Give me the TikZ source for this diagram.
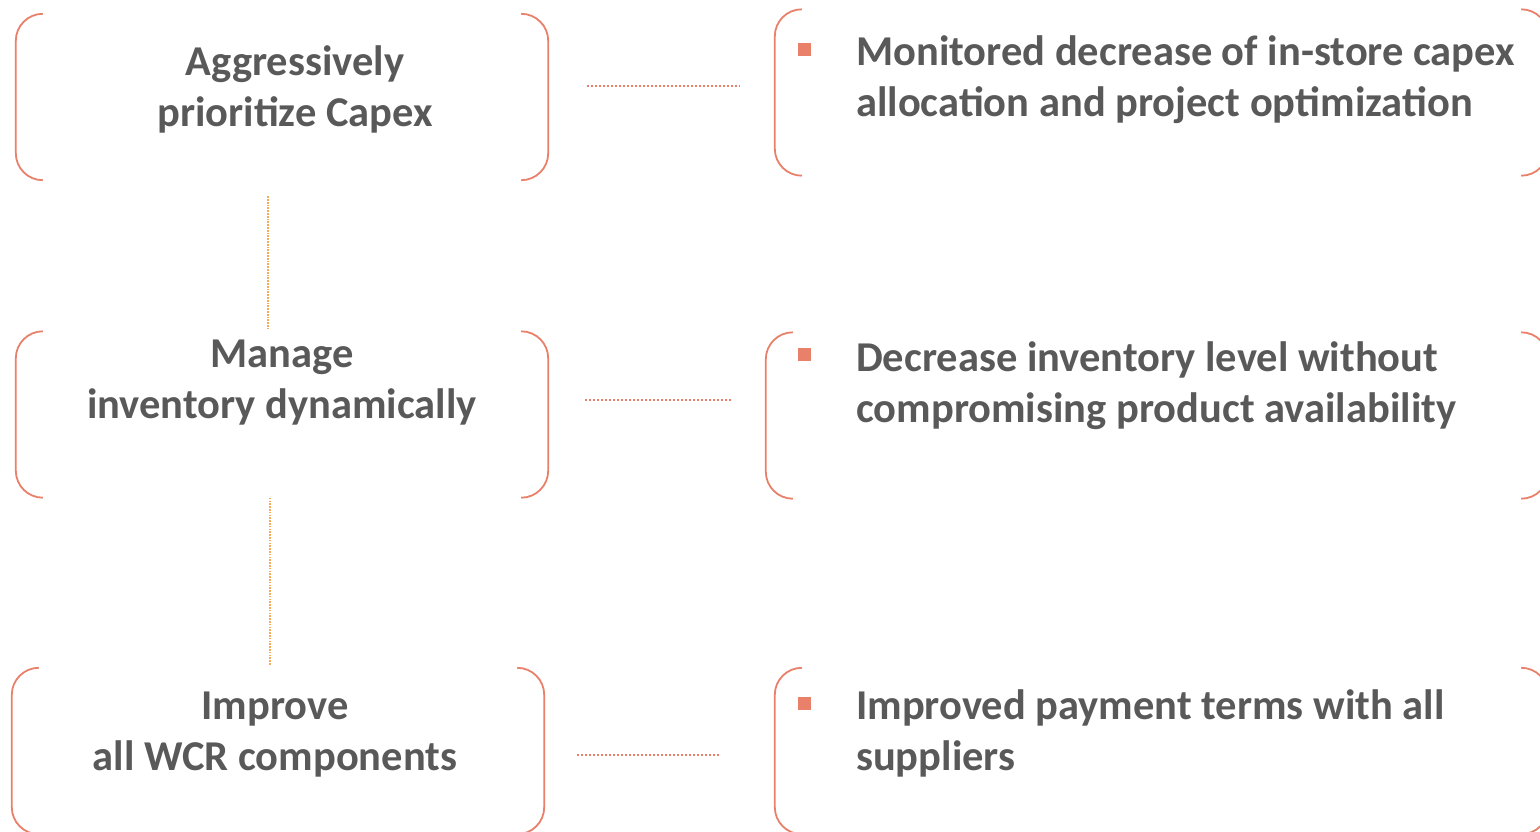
\documentclass[tikz,border=0pt]{standalone}
\usepackage{fontspec}
\setmainfont{Carlito}

\definecolor{salmon}{HTML}{E9806A}
\definecolor{amber}{HTML}{F4AC5C}
\definecolor{ink}{HTML}{595959}

\tikzset{
  frame/.style={minimum height=166pt, inner sep=0pt},
  bracket/.style={draw=salmon, line width=1.8pt, rounded corners=27pt},
  boxtext/.style={text=ink, font=\fontsize{42.5}{51}\selectfont\bfseries, inner sep=0pt},
  hdots/.style={salmon, line width=1.6pt, dash pattern=on 1.8pt off 2.2pt},
  vdots/.style={amber, line width=2.2pt, dash pattern=on 1.7pt off 1.1pt},
  bullet/.style={fill=salmon, minimum size=12.5pt, inner sep=0pt},
}

% a pair of round brackets around a (not drawn) frame node
\newcommand\brackets[1]{%
  \draw[bracket] ([xshift=27pt]#1.north west) -- (#1.north west)
    -- (#1.south west) -- ([xshift=27pt]#1.south west);
  \draw[bracket] ([xshift=-27pt]#1.north east) -- (#1.north east)
    -- (#1.south east) -- ([xshift=-27pt]#1.south east);
}

\begin{document}
\begin{tikzpicture}[x=1pt, y=-1pt]
\useasboundingbox (0,0) rectangle (1540,832);

% levers
\node[frame, minimum width=532pt] (capex) at (282,97) {};
\node[frame, minimum width=532pt] (stock) at (282,414.5) {};
\node[frame, minimum width=532pt] (wcr)   at (278,751) {};

% actions
\node[frame, minimum width=773pt] (capexAct) at (1161.5,92.5) {};
\node[frame, minimum width=782pt] (stockAct) at (1157,415.5) {};
\node[frame, minimum width=773pt] (wcrAct)   at (1161.5,751) {};

\foreach \f in {capex,stock,wcr,capexAct,stockAct,wcrAct}
  \brackets{\f};

% base anchor sits on the last line
\node[boxtext, align=center, anchor=base] (capexTxt) at (295,127)
  {Aggressively\\prioritize Capex};
\node[boxtext, align=center, anchor=base] (stockTxt) at (282,418)
  {Manage\\inventory dynamically};
\node[boxtext, align=center, anchor=base] (wcrTxt) at (275,770)
  {Improve\\all WCR components};

\node[bullet] (capexDot) at (804.5,49.5) {};
\node[bullet] (stockDot) at (804.5,354.5) {};
\node[bullet] (wcrDot)   at (804.5,703.5) {};

\node[boxtext, align=left, anchor=base west] (capexActTxt) at (856,117)
  {Monitored decrease of in-store capex\\allocation and project optimization};
\node[boxtext, align=left, anchor=base west] (stockActTxt) at (856,422)
  {Decrease inventory level without\\compromising product availability};
\node[boxtext, align=left, anchor=base west] (wcrActTxt) at (856,770)
  {Improved payment terms with all\\suppliers};

% links lever -> action
\draw[hdots] ([xshift=39pt,yshift=11pt]capex.east)
  -- ([xshift=-35pt,yshift=11pt]capex.east -| capexAct.west);
\draw[hdots] ([xshift=37pt,yshift=14.5pt]stock.east)
  -- ([xshift=-35pt,yshift=14.5pt]stock.east -| stockAct.west);
\draw[hdots] ([xshift=33pt,yshift=-4pt]wcr.east)
  -- ([xshift=-56pt,yshift=-4pt]wcr.east -| wcrAct.west);

% links between levers
\draw[vdots] ([xshift=-14pt,yshift=-16pt]capex.south)
  -- ([xshift=-14pt,yshift=2pt]stock.north);
\draw[vdots] ([xshift=-12pt]stock.south)
  -- ([xshift=-8pt,yshift=3pt]wcr.north);
\end{tikzpicture}
\end{document}
